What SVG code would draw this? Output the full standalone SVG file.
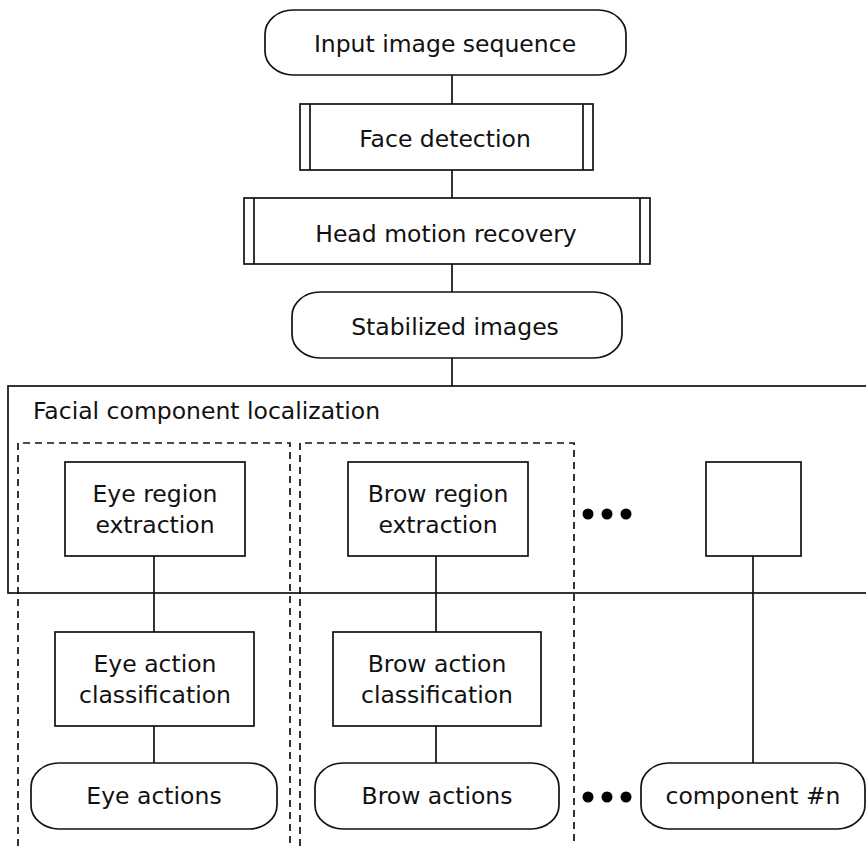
<svg xmlns="http://www.w3.org/2000/svg" width="866" height="846" viewBox="0 0 866 846">
<style>
.s{fill:#fff;stroke:#111;stroke-width:1.7}
.t{fill:#fff;stroke:#111;stroke-width:1.7}
.l{fill:none;stroke:#111;stroke-width:1.7}
.d{fill:none;stroke:#111;stroke-width:1.7;stroke-dasharray:7 5}
text{font-family:"DejaVu Sans","Liberation Sans",sans-serif;font-size:23.5px;fill:#111;text-anchor:middle}
.dot{fill:#000}
</style>
<rect width="866" height="846" fill="#fff"/>
<g id="container">
<rect class="s" x="8" y="386" width="870" height="207"/>
<text x="33" y="419" style="text-anchor:start">Facial component localization</text>
</g>
<g id="groups">
<path class="d" d="M18 846 V443 H290 V846"/>
<path class="d" d="M300 846 V443 H574 V846"/>
</g>
<g id="connectors">
<path class="l" d="M452 75 V104 M452 170 V198 M452 264 V292 M452 358 V386"/>
<path class="l" d="M154 556 V632 M154 726 V763"/>
<path class="l" d="M436 556 V632 M436 726 V763"/>
<path class="l" d="M753 556 V763"/>
</g>
<g id="input">
<rect class="t" x="265" y="10" width="361" height="65" rx="28" ry="24"/>
<text x="445" y="52">Input image sequence</text>
</g>
<g id="face">
<rect class="s" x="300" y="104" width="293" height="66"/>
<path class="l" d="M310 104 V170 M583 104 V170"/>
<text x="445" y="147">Face detection</text>
</g>
<g id="head">
<rect class="s" x="244" y="198" width="406" height="66"/>
<path class="l" d="M254 198 V264 M640 198 V264"/>
<text x="446" y="242">Head motion recovery</text>
</g>
<g id="stabilized">
<rect class="t" x="292" y="292" width="330" height="66" rx="28" ry="24"/>
<text x="455" y="335">Stabilized images</text>
</g>
<g id="eye-region">
<rect class="s" x="65" y="462" width="180" height="94"/>
<text x="155" y="502">Eye region</text>
<text x="155" y="533">extraction</text>
</g>
<g id="brow-region">
<rect class="s" x="348" y="462" width="180" height="94"/>
<text x="438" y="502">Brow region</text>
<text x="438" y="533">extraction</text>
</g>
<g id="dots-top">
<circle class="dot" cx="588" cy="514" r="5.5"/>
<circle class="dot" cx="607" cy="514" r="5.5"/>
<circle class="dot" cx="626" cy="514" r="5.5"/>
</g>
<g id="component-n-region">
<rect class="s" x="706" y="462" width="95" height="94"/>
</g>
<g id="eye-action">
<rect class="s" x="55" y="632" width="199" height="94"/>
<text x="155" y="672">Eye action</text>
<text x="155" y="703">classification</text>
</g>
<g id="brow-action">
<rect class="s" x="333" y="632" width="208" height="94"/>
<text x="437" y="672">Brow action</text>
<text x="437" y="703">classification</text>
</g>
<g id="eye-actions">
<rect class="t" x="31" y="763" width="246" height="66" rx="28" ry="24"/>
<text x="154" y="804">Eye actions</text>
</g>
<g id="brow-actions">
<rect class="t" x="315" y="763" width="244" height="66" rx="28" ry="24"/>
<text x="437" y="804">Brow actions</text>
</g>
<g id="dots-bottom">
<circle class="dot" cx="588" cy="797" r="5.5"/>
<circle class="dot" cx="607" cy="797" r="5.5"/>
<circle class="dot" cx="626" cy="797" r="5.5"/>
</g>
<g id="component-n">
<rect class="t" x="641" y="763" width="224" height="66" rx="28" ry="24"/>
<text x="753" y="804">component #n</text>
</g>
</svg>
